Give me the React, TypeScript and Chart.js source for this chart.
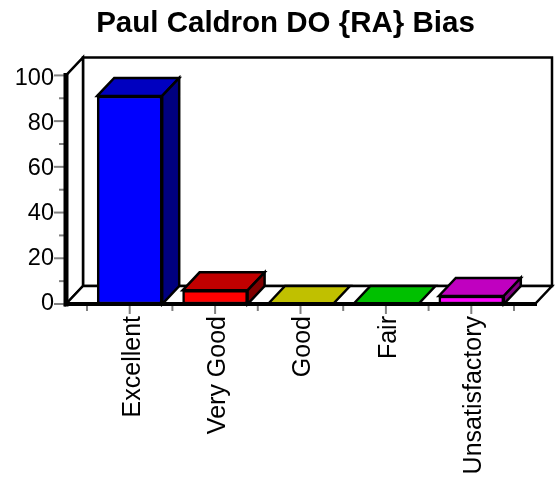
import React, { useEffect, useRef } from "react";
import { Chart, registerables } from "chart.js";

Chart.register(...registerables);

const categories = ["Excellent", "Very Good", "Good", "Fair", "Unsatisfactory"];
const values = [91, 6, 0, 0, 3.5];
const frontColors = ["#0000ff", "#ff0000", "#ffff00", "#00ff00", "#ff00ff"];
const topColors = ["#0000c0", "#c00000", "#c0c000", "#00c000", "#c000c0"];
const sideColors = ["#000080", "#800000", "#808000", "#008000", "#800080"];
const yMajorTicks = [0, 20, 40, 60, 80, 100];
const yMinorTicks = [10, 30, 50, 70, 90];
const titleText = "Paul Caldron DO {RA} Bias";

const DEPTH_X = 17;
const DEPTH_Y = 18;
const WALL_INSET = 21;

function poly(ctx: CanvasRenderingContext2D, pts: number[][], fill: string, lw = 2.5) {
  ctx.beginPath();
  pts.forEach((p, i) => (i ? ctx.lineTo(p[0], p[1]) : ctx.moveTo(p[0], p[1])));
  ctx.closePath();
  ctx.fillStyle = fill;
  ctx.fill();
  ctx.lineWidth = lw;
  ctx.strokeStyle = "#000";
  ctx.lineJoin = "miter";
  ctx.stroke();
}

const box3d = {
  id: "box3d",
  beforeDatasetsDraw(chart: any) {
    const { ctx, scales } = chart;
    const x = scales.x, y = scales.y;
    const l = x.left - WALL_INSET, r = x.right + WALL_INSET;
    const t = y.top, b = y.bottom;
    ctx.save();
    poly(ctx, [[l + DEPTH_X, t - DEPTH_Y], [r + DEPTH_X, t - DEPTH_Y], [r + DEPTH_X, b - DEPTH_Y], [l + DEPTH_X, b - DEPTH_Y]], "#fff");
    poly(ctx, [[l, t], [l + DEPTH_X, t - DEPTH_Y], [l + DEPTH_X, b - DEPTH_Y], [l, b]], "#fff");
    poly(ctx, [[l, b], [l + DEPTH_X, b - DEPTH_Y], [r + DEPTH_X, b - DEPTH_Y], [r, b]], "#fff");
    const bars = chart.getDatasetMeta(0).data;
    bars.forEach((bar: any, i: number) => {
      const hw = bar.width / 2;
      const x0 = bar.x - hw, x1 = bar.x + hw, top = bar.y, base = bar.base;
      poly(ctx, [[x0, top], [x0 + DEPTH_X, top - DEPTH_Y], [x1 + DEPTH_X, top - DEPTH_Y], [x1, top]], topColors[i]);
      if (base - top > 0.5) {
        poly(ctx, [[x1, top], [x1 + DEPTH_X, top - DEPTH_Y], [x1 + DEPTH_X, base - DEPTH_Y], [x1, base]], sideColors[i]);
      }
    });
    ctx.restore();
  },
  afterDatasetsDraw(chart: any) {
    const { ctx, scales } = chart;
    const x = scales.x, y = scales.y;
    const l = x.left - WALL_INSET, r = x.right + WALL_INSET;
    const t = y.top, b = y.bottom;
    ctx.save();
    ctx.strokeStyle = "#808080";
    ctx.lineWidth = 2;
    const line = (a: number, c: number, d: number, e: number) => {
      ctx.beginPath();
      ctx.moveTo(a, c);
      ctx.lineTo(d, e);
      ctx.stroke();
    };
    yMajorTicks.forEach((v) => line(l - 12, y.getPixelForValue(v), l, y.getPixelForValue(v)));
    yMinorTicks.forEach((v) => line(l - 7, y.getPixelForValue(v), l, y.getPixelForValue(v)));
    const step = (x.right - x.left) / categories.length;
    categories.forEach((_, i) => line(x.getPixelForValue(i), b, x.getPixelForValue(i), b + 10));
    for (let i = 0; i <= categories.length; i++) line(x.left + i * step, b, x.left + i * step, b + 7);
    ctx.strokeStyle = "#000";
    ctx.lineCap = "square";
    ctx.lineWidth = 5;
    line(l, t, l, b);
    ctx.lineWidth = 4;
    line(l, b, r, b);
    ctx.restore();
  },
};

export default function App() {
  const ref = useRef<HTMLCanvasElement>(null);
  useEffect(() => {
    const chart = new Chart(ref.current!, {
      type: "bar",
      data: {
        labels: categories,
        datasets: [
          {
            data: values,
            backgroundColor: frontColors,
            borderColor: "#000",
            borderWidth: values.map((v) => (v > 0 ? 2.5 : 0)),
            borderSkipped: false,
            barThickness: 65,
          },
        ],
      },
      options: {
        animation: false,
        responsive: false,
        layout: { padding: { left: 14, right: 0, top: 6, bottom: 0 } },
        plugins: {
          legend: { display: false },
          tooltip: { enabled: false },
          title: {
            display: true,
            text: titleText,
            color: "#000",
            font: { family: "Liberation Sans", size: 29.5, weight: "bold" },
            padding: { top: 0, bottom: 34 },
          },
        },
        scales: {
          x: {
            grid: { display: false },
            border: { display: false },
            afterFit(s: any) {
              s.height = 173;
            },
            ticks: {
              autoSkip: false,
              minRotation: 90,
              maxRotation: 90,
              padding: 4,
              labelOffset: 3,
              color: "#000",
              font: { family: "Liberation Sans", size: 25 },
            },
          },
          y: {
            display: false,
            min: 0,
            max: 100,
          },
          yLabels: {
            position: "left",
            min: 0,
            max: 101.3,
            afterFit(s: any) {
              s.width = 73;
            },
            afterBuildTicks(s: any) {
              s.ticks = yMajorTicks.map((value) => ({ value }));
            },
            grid: { display: false },
            border: { display: false },
            ticks: {
              padding: 25,
              color: "#000",
              font: { family: "Liberation Sans", size: 23.5 },
            },
          },
          yRightGutter: {
            position: "right",
            min: 0,
            max: 100,
            afterFit(s: any) {
              s.width = 43;
            },
            grid: { display: false },
            border: { display: false },
            ticks: { display: false },
          },
        },
      },
      plugins: [box3d],
    } as any);
    return () => chart.destroy();
  }, []);
  return (
    <div style={{ position: "fixed", left: 0, top: 0, width: 557, height: 477 }}>
      <canvas ref={ref} width={557} height={477} style={{ display: "block" }} />
    </div>
  );
}
